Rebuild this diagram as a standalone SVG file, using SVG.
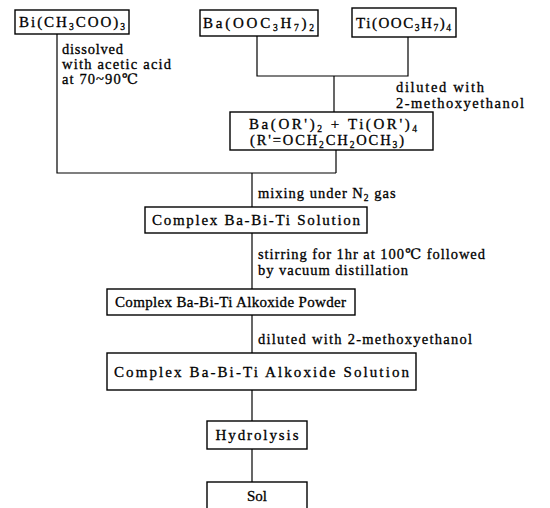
<svg xmlns="http://www.w3.org/2000/svg" width="550" height="508" viewBox="0 0 550 508">
<style>
  .box{fill:#fff;stroke:#000;stroke-width:1.4}
  .ln{fill:none;stroke:#000;stroke-width:1.2}
  text{font-family:"Liberation Serif","DejaVu Serif",serif;fill:#000;stroke:#000;stroke-width:0.3}
  .t{font-size:15px}
  .a{font-size:14.5px}
  .s{font-size:9.5px}
</style>
<rect width="550" height="508" fill="#fff"/>
<g id="connectors">
  <polyline class="ln" points="57,34 57,173 336,173"/>
  <line class="ln" x1="336" y1="150" x2="336" y2="173"/>
  <polyline class="ln" points="257,36 257,76 408,76 408,37"/>
  <line class="ln" x1="334" y1="76" x2="334" y2="112"/>
  <line class="ln" x1="252" y1="173" x2="252" y2="207"/>
  <line class="ln" x1="252" y1="233" x2="252" y2="289"/>
  <line class="ln" x1="252" y1="315" x2="252" y2="353"/>
  <line class="ln" x1="252" y1="390" x2="252" y2="421"/>
  <line class="ln" x1="252" y1="449" x2="252" y2="482"/>
</g>
<g id="labels">
  <text class="a" x="62" y="54" textLength="61" lengthAdjust="spacing">dissolved</text>
  <text class="a" x="62" y="69" textLength="109" lengthAdjust="spacing">with acetic acid</text>
  <text class="a" x="62" y="84" textLength="76" lengthAdjust="spacing">at 70~90℃</text>
  <text class="a" x="396" y="92" font-size="14" textLength="88" lengthAdjust="spacing">diluted with</text>
  <text class="a" x="396" y="108" font-size="14" textLength="128" lengthAdjust="spacing">2-methoxyethanol</text>
  <text class="a" x="258" y="198" letter-spacing="1">mixing under N<tspan class="s" dy="3">2</tspan><tspan dy="-3"> gas</tspan></text>
  <text class="a" x="258" y="259" textLength="227" lengthAdjust="spacing">stirring for 1hr at 100℃ followed</text>
  <text class="a" x="258" y="275" textLength="150" lengthAdjust="spacing">by vacuum distillation</text>
  <text class="a" x="258" y="344" textLength="214" lengthAdjust="spacing">diluted with 2-methoxyethanol</text>
</g>
<g id="n-bi">
  <rect class="box" x="15" y="10" width="114" height="24"/>
  <text class="t" x="19" y="27" textLength="106" lengthAdjust="spacing">Bi(CH<tspan class="s" dy="3">3</tspan><tspan dy="-3">COO)</tspan><tspan class="s" dy="3">3</tspan></text>
</g>
<g id="n-ba">
  <rect class="box" x="200" y="10" width="118" height="26"/>
  <text class="t" x="203" y="28" textLength="111" lengthAdjust="spacing">Ba(OOC<tspan class="s" dy="3">3</tspan><tspan dy="-3">H</tspan><tspan class="s" dy="3">7</tspan><tspan dy="-3">)</tspan><tspan class="s" dy="3">2</tspan></text>
</g>
<g id="n-ti">
  <rect class="box" x="352" y="8" width="104" height="29"/>
  <text class="t" x="356" y="28" textLength="95" lengthAdjust="spacing">Ti(OOC<tspan class="s" dy="3">3</tspan><tspan dy="-3">H</tspan><tspan class="s" dy="3">7</tspan><tspan dy="-3">)</tspan><tspan class="s" dy="3">4</tspan></text>
</g>
<g id="n-mix">
  <rect class="box" x="230" y="112" width="203" height="38"/>
  <text class="t" x="249" y="129" textLength="168" lengthAdjust="spacing">Ba(OR')<tspan class="s" dy="3">2</tspan><tspan dy="-3"> + Ti(OR')</tspan><tspan class="s" dy="3">4</tspan></text>
  <text class="a" x="250" y="145" font-size="13" textLength="154" lengthAdjust="spacing">(R'=OCH<tspan class="s" dy="3">2</tspan><tspan dy="-3">CH</tspan><tspan class="s" dy="3">2</tspan><tspan dy="-3">OCH</tspan><tspan class="s" dy="3">3</tspan><tspan dy="-3">)</tspan></text>
</g>
<g id="n-solution">
  <rect class="box" x="145" y="207" width="222" height="26"/>
  <text class="t" x="152" y="225" textLength="208" lengthAdjust="spacing">Complex Ba-Bi-Ti Solution</text>
</g>
<g id="n-powder">
  <rect class="box" x="107" y="289" width="248" height="26"/>
  <text class="t" x="115" y="307" textLength="231" lengthAdjust="spacing">Complex Ba-Bi-Ti Alkoxide Powder</text>
</g>
<g id="n-alksol">
  <rect class="box" x="107" y="353" width="309" height="37"/>
  <text class="t" x="114" y="377" textLength="295" lengthAdjust="spacing">Complex Ba-Bi-Ti Alkoxide Solution</text>
</g>
<g id="n-hydrolysis">
  <rect class="box" x="207" y="421" width="100" height="28"/>
  <text class="t" x="257" y="440" text-anchor="middle" textLength="83" lengthAdjust="spacing">Hydrolysis</text>
</g>
<g id="n-sol">
  <rect class="box" x="207" y="482" width="100" height="30"/>
  <text class="t" x="257" y="501" text-anchor="middle">Sol</text>
</g>
</svg>
